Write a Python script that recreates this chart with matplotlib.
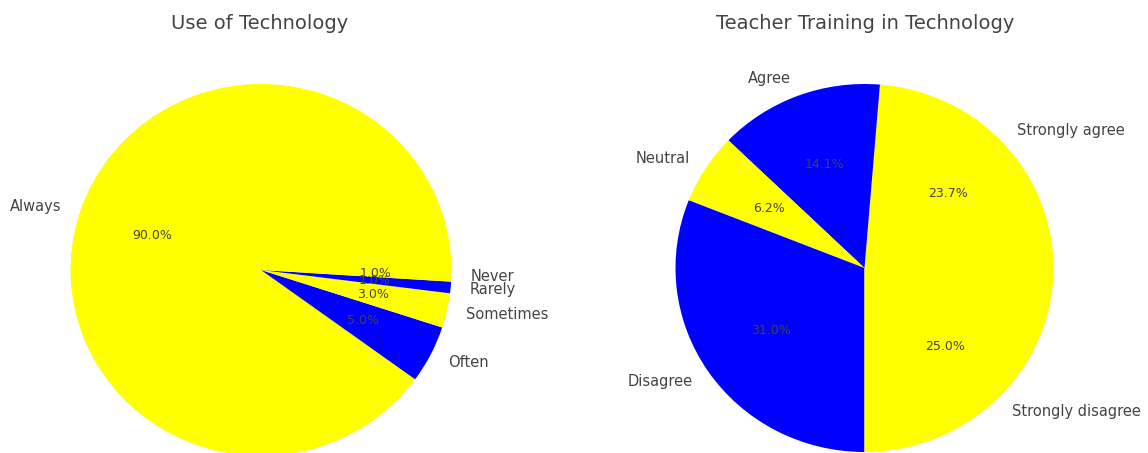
import matplotlib
matplotlib.use("Agg")
import matplotlib.pyplot as plt

use_labels = ["Always", "Often", "Sometimes", "Rarely", "Never"]
use_values = [90.0, 5.0, 3.0, 1.0, 1.0]

train_labels = ["Strongly agree", "Agree", "Neutral", "Disagree", "Strongly disagree"]
train_values = [23.7, 14.1, 6.2, 31.0, 25.0]

colors = ["yellow", "blue"]
text_color = "#444444"

W, H = 1148, 453
fig = plt.figure(figsize=(W / 100, H / 100), dpi=100)


def add_pie_axes(cx, cy, rx, ry):
    w, h = 2.5 * rx, 2.5 * ry
    return fig.add_axes([(cx - w / 2) / W, (H - cy - h / 2) / H, w / W, h / H])


specs = [
    (use_values, use_labels, "Use of Technology", 261.0, 270.0, 190.5, 186.0, 260.0),
    (train_values, train_labels, "Teacher Training in Technology", 864.5, 268.0, 189.0, 184.0, 865.5),
]

for vals, labs, title, cx, cy, rx, ry, tx in specs:
    ax = add_pie_axes(cx, cy, rx, ry)
    wedges, texts, autotexts = ax.pie(vals, labels=labs, colors=colors, autopct="%1.1f%%",
                                      startangle=0,
                                      textprops={"color": text_color, "fontsize": 10.5})
    for t in autotexts:
        t.set_fontsize(9)
    ax.set_aspect("auto")
    ax.set_xlim(-1.25, 1.25)
    ax.set_ylim(-1.25, 1.25)
    fig.text(tx / W, 1 - 29 / H, title, ha="center", va="baseline", fontsize=14, color=text_color)

fig.savefig("out.png", dpi=100)
